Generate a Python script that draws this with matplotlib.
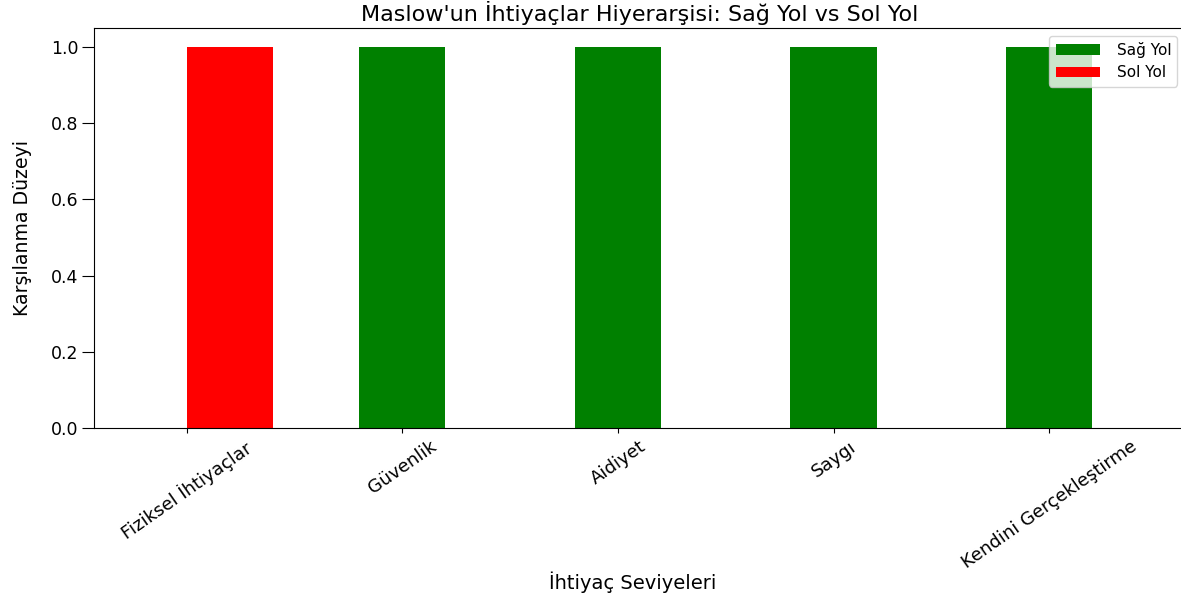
import matplotlib
matplotlib.use("Agg")
import matplotlib.pyplot as plt
import numpy as np

# needs levels, in order of the hierarchy
levels = ["Fiziksel İhtiyaçlar", "Güvenlik", "Aidiyet", "Saygı", "Kendini Gerçekleştirme"]

# 1 = met on that path, 0 = not met
sag_yol = [0, 1, 1, 1, 1]
sol_yol = [1, 0, 0, 0, 0]

bar_width = 0.4

fig, ax = plt.subplots(figsize=(11.81, 5.96), dpi=100)
fig.subplots_adjust(left=0.0796, right=1.0034, bottom=0.2819, top=0.953)

x = np.arange(len(levels))
ax.bar(x, sag_yol, width=bar_width, color="green", label="Sağ Yol")
ax.bar(x + bar_width / 2, sol_yol, width=bar_width, color="red", label="Sol Yol")

ax.set_title("Maslow'un İhtiyaçlar Hiyerarşisi: Sağ Yol vs Sol Yol", fontsize=16, pad=5)
ax.set_xlabel("İhtiyaç Seviyeleri", fontsize=14)
ax.xaxis.set_label_coords(0.494, -0.36)
ax.set_ylabel("Karşılanma Düzeyi", fontsize=13.6)
ax.yaxis.set_label_coords(-0.057, 0.5)

ax.set_xticks(x)
ax.set_xticklabels(levels, rotation=35, ha="center", fontsize=13)
ax.tick_params(axis="y", labelsize=12.5, length=9, pad=2)

ax.legend(loc="upper right", fontsize=11, handlelength=2.9, handletextpad=1.1)

fig.savefig("out.png", dpi=100)
